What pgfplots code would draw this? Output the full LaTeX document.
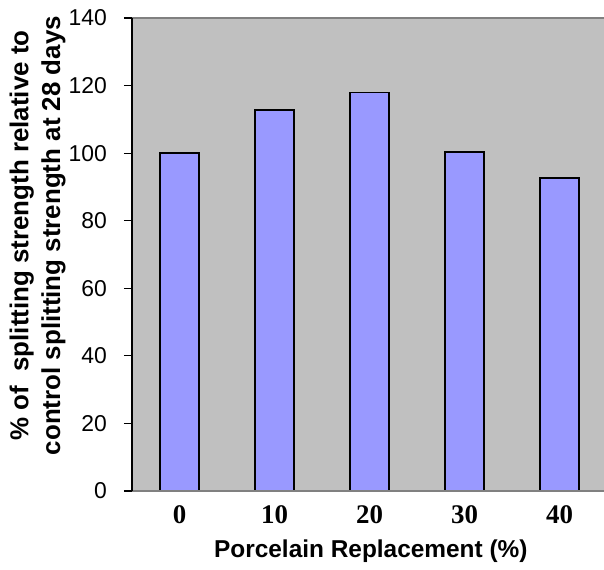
\documentclass[border=0pt]{standalone}
\usepackage{fontspec}
\setmainfont{Liberation Sans}
\newfontfamily\timesfont{Liberation Serif}
\usepackage{pgfplots}
\pgfplotsset{compat=1.18}
\definecolor{bgc}{HTML}{C0C0C0}
\definecolor{barc}{HTML}{9999FF}
\definecolor{brd}{HTML}{808080}
\begin{document}
\begin{tikzpicture}
\begin{axis}[
  scale only axis, width=472bp, height=473bp,
  xmin=-0.5, xmax=4.468, ymin=0, ymax=140,
  clip=false,
  axis background/.style={fill=bgc},
  axis line style={draw=none},
  xtick={0,1,2,3,4}, xticklabels={0,10,20,30,40},
  xtick style={draw=none},
  xtick align=inside,
  ytick={0,20,...,140},
  ytick pos=left,
  ytick align=outside,
  major tick length=8bp,
  ytick style={black, line width=1.2bp},
  /pgf/number format/assume math mode=true,
  yticklabel shift=17bp,
  xticklabel shift=14bp,
  yticklabel style={font=\fontsize{23}{27}\selectfont, anchor=east, inner sep=0pt},
  xticklabel style={font=\fontsize{27}{30}\selectfont\timesfont\bfseries, anchor=north, inner sep=0pt},
  ylabel={\% of\ \ splitting strength relative to\\control splitting strength at 28 days},
  ylabel style={font=\fontsize{26}{32}\selectfont\bfseries, align=center, at={(axis description cs:-0.2,0.54)}, anchor=center},
  xlabel={Porcelain Replacement (\%)},
  xlabel style={font=\fontsize{24.5}{30}\selectfont\bfseries, at={(axis description cs:0.506,-0.127)}, anchor=center},
]
\addplot[ybar, bar width=39bp, fill=barc, draw=black, line width=1.5bp] coordinates {(0,100) (1,112.8) (2,117.9) (3,100.3) (4,92.7)};
\draw[brd, line width=2bp] (rel axis cs:0,1) -- (rel axis cs:1,1);
\draw[brd, line width=2bp] (rel axis cs:0,0) -- (rel axis cs:1,0);
\draw[black, line width=1.5bp] (rel axis cs:0,0) -- (rel axis cs:0,1);
\coordinate (ll) at (rel axis cs:0,0);
\end{axis}
\pgfresetboundingbox
\path (ll) ++(-132bp,-79bp) rectangle ++(604bp,570bp);
\end{tikzpicture}
\end{document}
